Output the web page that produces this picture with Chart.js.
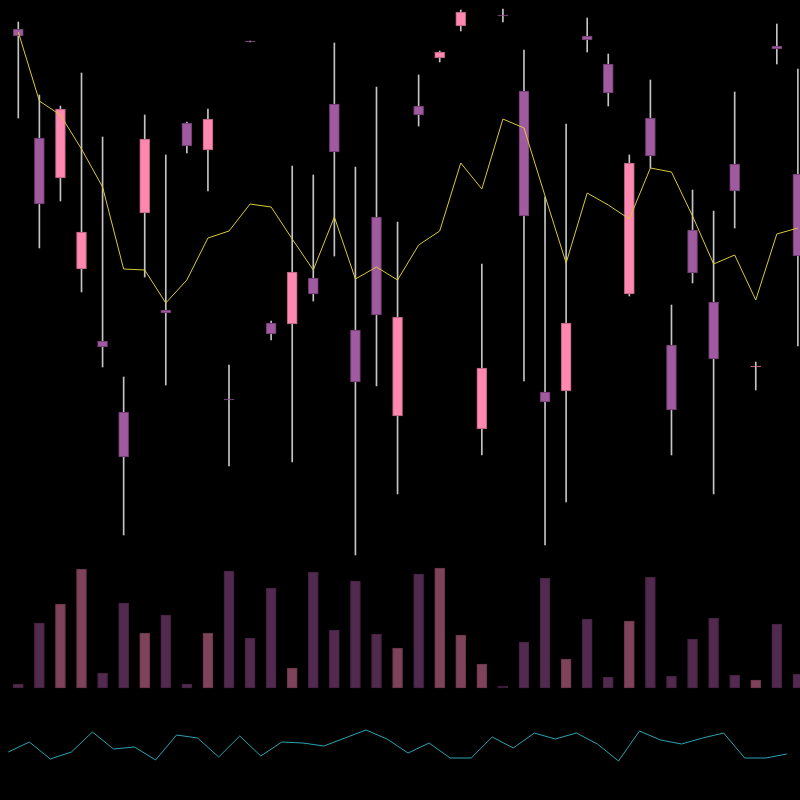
<!DOCTYPE html>
<html>
<head>
<meta charset="utf-8">
<script src="https://cdn.jsdelivr.net/npm/chart.js@4/dist/chart.umd.min.js"></script>
<style>
  html, body { margin: 0; padding: 0; background: #000; }
  #wrap { position: relative; width: 800px; height: 800px; }
</style>
</head>
<body>
<div id="wrap"><canvas id="c"></canvas></div>
<script>
// ---- data ----
const opens  = [77.1,66.2,62.2,53.1,45.9,38.8,58.7,49.0,67.7,65.0,40.1,75.9,47.7,47.6,52.2,69.6,47.0,58.3,38.4,69.4,74.2,77.4,37.1,78.5,70.9,40.8,40.9,76.4,73.6,50.6,68.2,45.5,57.0,49.8,63.6,43.3,75.4,62.6];
const highs  = [77.8,70.5,69.4,72.7,66.3,42.3,68.5,64.5,67.8,69.1,43.5,75.9,47.9,63.4,62.5,75.7,63.3,71.3,57.8,72.5,74.9,79.0,53.6,79.1,75.0,60.3,67.6,78.2,74.6,64.5,72.0,49.5,61.0,58.9,70.8,43.8,77.6,73.1];
const lows   = [68.2,55.2,59.9,50.8,43.3,26.5,52.3,41.5,64.7,60.9,33.4,75.8,46.0,33.8,49.9,54.4,24.5,41.4,30.6,67.4,73.8,76.9,34.5,77.8,41.9,25.5,29.8,74.8,69.4,50.4,63.2,34.5,51.7,30.6,57.2,41.0,73.6,45.4];
const closes = [76.4,59.6,69.1,56.8,45.3,34.3,66.1,48.7,65.4,68.1,40.0,75.8,46.6,52.8,50.6,64.8,41.8,48.5,48.3,68.5,74.8,78.8,43.2,78.4,58.4,39.8,47.7,76.0,70.7,63.7,64.4,39.0,52.7,44.1,60.9,43.4,75.1,54.4];
const signalLine = [76.8,69.9,68.5,65.1,61.3,53.1,53.0,49.7,52.0,56.2,56.9,59.6,59.3,56.1,53.0,58.3,52.1,53.3,52.0,55.5,56.9,63.7,61.1,68.1,67.2,60.4,53.7,60.7,59.5,58.1,63.2,62.8,58.4,53.6,54.5,50.0,56.6,57.2];
const volumes = [400,6500,8400,11900,1500,8500,5500,7300,400,5500,11700,5000,10000,2000,11600,5800,10700,5400,4000,11400,12000,5300,2400,200,4600,11000,2900,6900,1100,6700,11100,1200,4900,7000,1300,800,6400,1400];
const oscillator = [48,58,41,48,68,51,53,40,65,62,43,64,44,58,57,54,62,70,61,47,57,42,42,63,52,67,61,67,56,39,69,60,56,62,67,42,42,46];

// ---- styles ----
const UP_FILL = '#fe88b0', UP_BORDER = '#b25c7e';
const DOWN_FILL = '#a05aa0', DOWN_BORDER = '#6a3a6a';
const UP_VOL = '#7e4359', DOWN_VOL = '#52294f';
const WICK = '#c4c4c4';

const idx = opens.map((_, i) => i);
const isUp = idx.map(i => closes[i] >= opens[i]);

const wickData = idx.map(i => ({ x: i, y: [lows[i], highs[i]] }));
const bodyData = idx.map(i => ({ x: i, y: [opens[i], closes[i]] }));
const volData = idx.map(i => ({ x: i, y: volumes[i] }));
const sigData = idx.map(i => ({ x: i, y: signalLine[i] }));
const oscData = oscillator.map((v, i) => ({ x: i, y: v }));

new Chart(document.getElementById('c'), {
  type: 'bar',
  data: {
    datasets: [
      { type: 'line', data: sigData, xAxisID: 'x', yAxisID: 'yP',
        borderColor: '#d8ca36', borderWidth: 1, pointRadius: 0, tension: 0, order: 0 },
      { type: 'bar', data: bodyData, xAxisID: 'x', yAxisID: 'yP', grouped: false,
        barThickness: 10, borderWidth: 1, borderSkipped: false,
        backgroundColor: isUp.map(u => u ? UP_FILL : DOWN_FILL),
        borderColor: isUp.map(u => u ? UP_BORDER : DOWN_BORDER), order: 1 },
      { type: 'bar', data: wickData, xAxisID: 'x', yAxisID: 'yP', grouped: false,
        barThickness: 1, backgroundColor: WICK, borderWidth: 0, order: 2 },
      { type: 'bar', data: volData, xAxisID: 'x', yAxisID: 'yV', grouped: false,
        barThickness: 10, borderWidth: 1, borderSkipped: false,
        backgroundColor: isUp.map(u => u ? UP_VOL : DOWN_VOL),
        borderColor: isUp.map(u => u ? '#6a3549' : '#43203f'), order: 3 },
      { type: 'line', data: oscData, xAxisID: 'x2', yAxisID: 'yC',
        borderColor: '#2aa3b4', borderWidth: 1, pointRadius: 0, tension: 0, order: 4 }
    ]
  },
  options: {
    responsive: true,
    maintainAspectRatio: false,
    animation: false,
    layout: { padding: 0 },
    plugins: { legend: { display: false }, tooltip: { enabled: false } },
    scales: {
      x:  { type: 'linear', min: -0.8685, max: 37.10, offset: false, display: false },
      x2: { type: 'linear', min: -0.3945, max: 37.628, offset: false, display: false },
      yP: { type: 'linear', min: 0, max: 80, display: false },
      yV: { type: 'linear', min: -11200, max: 68800, display: false },
      yC: { type: 'linear', min: 0, max: 800, display: false }
    }
  }
});
</script>
</body>
</html>
